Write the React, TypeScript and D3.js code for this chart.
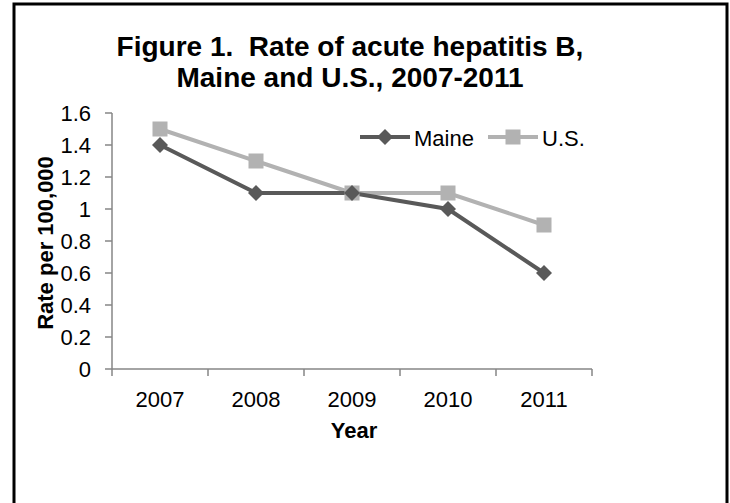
import React from "react";
import * as d3 from "d3";

const years = ["2007", "2008", "2009", "2010", "2011"];
const maine = [1.4, 1.1, 1.1, 1.0, 0.6];
const us = [1.5, 1.3, 1.1, 1.1, 0.9];
const yTicks = [0, 0.2, 0.4, 0.6, 0.8, 1, 1.2, 1.4, 1.6];
const seriesNames = ["Maine", "U.S."];

export default function App() {
  const W = 730, H = 503;
  const left = 112, right = 592, top = 113, bottom = 369;
  const x = d3.scaleBand().domain(years).range([left, right]);
  const y = d3.scaleLinear().domain([0, 1.6]).range([bottom, top]);
  const cx = (d: string) => (x(d) as number) + x.bandwidth() / 2;
  const line = d3.line<number>().x((_, i) => cx(years[i])).y((v) => y(v));
  const axisColor = "#868686";
  const cMaine = "#595959";
  const cUS = "#b2b2b2";
  const font = "Liberation Sans, Arial, sans-serif";
  const diamond = (px: number, py: number, r: number) =>
    `M${px},${py - r}L${px + r},${py}L${px},${py + r}L${px - r},${py}Z`;
  const boundaries = [...years.map((d) => x(d) as number), right];
  return (
    <svg width={W} height={H} style={{ position: "absolute", left: 0, top: 0 }} fontFamily={font}>
      <rect x={0} y={0} width={W} height={H} fill="#fff" />
      <path d={`M14,${H + 5}V4H727V${H + 5}`} fill="none" stroke="#000" strokeWidth={3} />
      <text x={350} y={56} textAnchor="middle" fontSize={28} fontWeight="bold" style={{ whiteSpace: "pre" }}>Figure 1.  Rate of acute hepatitis B,</text>
      <text x={350} y={87} textAnchor="middle" fontSize={28} fontWeight="bold">Maine and U.S., 2007-2011</text>
      {/* y axis */}
      <line x1={left} x2={left} y1={top} y2={bottom} stroke={axisColor} strokeWidth={1.5} />
      {yTicks.map((t) => (
        <g key={t}>
          <line x1={left - 7} x2={left} y1={y(t)} y2={y(t)} stroke={axisColor} strokeWidth={1.5} />
          <text x={91} y={y(t) + 8} textAnchor="end" fontSize={22}>{String(t)}</text>
        </g>
      ))}
      {/* x axis */}
      <line x1={left} x2={right} y1={bottom} y2={bottom} stroke={axisColor} strokeWidth={1.5} />
      {boundaries.map((b, i) => (
        <line key={i} x1={b} x2={b} y1={bottom} y2={bottom + 7} stroke={axisColor} strokeWidth={1.5} />
      ))}
      {years.map((d) => (
        <text key={d} x={cx(d)} y={407} textAnchor="middle" fontSize={22}>{d}</text>
      ))}
      <text x={354} y={438} textAnchor="middle" fontSize={22} fontWeight="bold">Year</text>
      <text transform={`translate(53,243) rotate(-90)`} textAnchor="middle" fontSize={22} fontWeight="bold">Rate per 100,000</text>
      {/* series */}
      <path d={line(us) || ""} fill="none" stroke={cUS} strokeWidth={4} />
      <path d={line(maine) || ""} fill="none" stroke={cMaine} strokeWidth={4} />
      {us.map((v, i) => (
        <rect key={"u" + i} x={cx(years[i]) - 7.5} y={y(v) - 7.5} width={15} height={15} fill={cUS} />
      ))}
      {maine.map((v, i) => (
        <path key={"m" + i} d={diamond(cx(years[i]), y(v), 8)} fill={cMaine} />
      ))}
      {/* legend */}
      <line x1={360} x2={410} y1={137} y2={137} stroke={cMaine} strokeWidth={4} />
      <path d={diamond(385, 137, 8)} fill={cMaine} />
      <text x={414} y={146} fontSize={22}>{seriesNames[0]}</text>
      <line x1={488} x2={538} y1={137} y2={137} stroke={cUS} strokeWidth={4} />
      <rect x={505.5} y={129.5} width={15} height={15} fill={cUS} />
      <text x={542} y={146} fontSize={22}>{seriesNames[1]}</text>
    </svg>
  );
}
